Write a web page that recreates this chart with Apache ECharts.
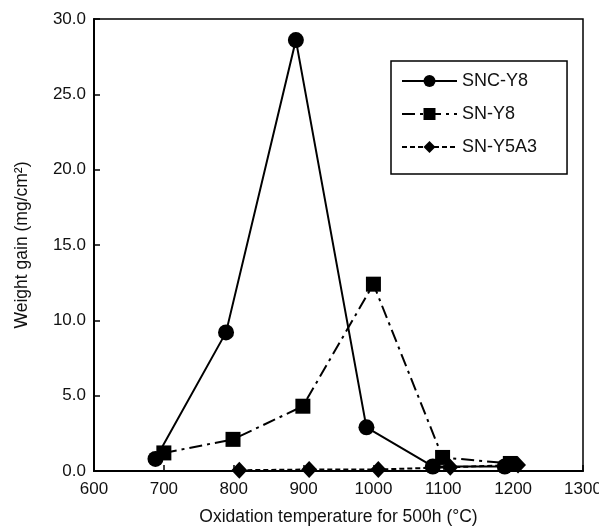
<!DOCTYPE html>
<html>
<head>
<meta charset="utf-8">
<script src="https://cdn.jsdelivr.net/npm/echarts@6/dist/echarts.min.js"></script>
<style>
  body { margin: 0; background: #fff; }
  #chart { width: 599px; height: 530px; }
</style>
</head>
<body>
<div id="chart"></div>
<script>
// temperatures as plotted (points are slightly offset per series)
const sncY8Temp = [688, 789, 889, 990, 1085, 1188]
const sncY8Gain = [0.8, 9.2, 28.6, 2.9, 0.3, 0.3]

const snY8Temp = [700, 799, 899, 1000, 1099, 1196]
const snY8Gain = [1.2, 2.1, 4.3, 12.4, 0.9, 0.5]

const snY5A3Temp = [808, 908, 1007, 1110, 1207]
const snY5A3Gain = [0.05, 0.1, 0.1, 0.25, 0.4]

const xTicks = [600, 700, 800, 900, 1000, 1100, 1200, 1300]
const yTicks = [0, 5, 10, 15, 20, 25, 30]

const pairs = (xs, ys) => xs.map((x, i) => [x, ys[i]])

const textStyle = {
  fontFamily: 'Liberation Sans',
  fontWeight: 'normal',
  color: '#111'
}

const chart = echarts.init(document.getElementById('chart'))

chart.setOption({
  animation: false,
  grid: {
    left: 94,
    right: 16,
    top: 19,
    bottom: 59,
    outerBoundsMode: 'none',
    containLabel: false,
    show: true,
    borderColor: '#000',
    borderWidth: 1.5
  },
  legend: {
    orient: 'vertical',
    left: 391,
    top: 61,
    padding: [11, 30, 18, 10],
    itemWidth: 55,
    itemHeight: 15,
    itemGap: 15,
    borderColor: '#000',
    borderWidth: 1.5,
    textStyle: Object.assign({}, textStyle, { fontSize: 18 }),
    data: ['SNC-Y8', 'SN-Y8', 'SN-Y5A3']
  },
  xAxis: {
    type: 'value',
    min: xTicks[0],
    max: xTicks[xTicks.length - 1],
    interval: 100,
    name: 'Oxidation temperature for 500h (°C)',
    nameLocation: 'middle',
    nameGap: 37,
    nameTextStyle: Object.assign({}, textStyle, { fontSize: 17.5 }),
    axisLine: { lineStyle: { color: '#000', width: 2 } },
    axisTick: { inside: true, length: 6, lineStyle: { color: '#000', width: 1.5 } },
    axisLabel: Object.assign({}, textStyle, {
      fontSize: 17,
      margin: 10,
      formatter: v => String(v)
    }),
    splitLine: { show: false }
  },
  yAxis: {
    type: 'value',
    min: yTicks[0],
    max: yTicks[yTicks.length - 1],
    interval: 5,
    name: 'Weight gain (mg/cm²)',
    nameLocation: 'middle',
    nameGap: 63,
    nameTextStyle: Object.assign({}, textStyle, { fontSize: 17.5 }),
    axisLine: { show: true, lineStyle: { color: '#000', width: 2 } },
    axisTick: { show: true, inside: true, length: 6, lineStyle: { color: '#000', width: 1.5 } },
    axisLabel: Object.assign({}, textStyle, {
      fontSize: 17,
      margin: 8,
      formatter: v => v.toFixed(1)
    }),
    splitLine: { show: false }
  },
  series: [
    {
      name: 'SNC-Y8',
      type: 'line',
      data: pairs(sncY8Temp, sncY8Gain),
      symbol: 'circle',
      symbolSize: 16,
      itemStyle: { color: '#000' },
      lineStyle: { color: '#000', width: 2 }
    },
    {
      name: 'SN-Y8',
      type: 'line',
      data: pairs(snY8Temp, snY8Gain),
      symbol: 'rect',
      symbolSize: 15,
      itemStyle: { color: '#000' },
      lineStyle: { color: '#000', width: 2, type: [13, 5, 3, 5] }
    },
    {
      name: 'SN-Y5A3',
      type: 'line',
      data: pairs(snY5A3Temp, snY5A3Gain),
      symbol: 'diamond',
      symbolSize: [16, 17],
      itemStyle: { color: '#000' },
      lineStyle: { color: '#000', width: 2, type: [5, 3] }
    }
  ]
})
</script>
</body>
</html>
